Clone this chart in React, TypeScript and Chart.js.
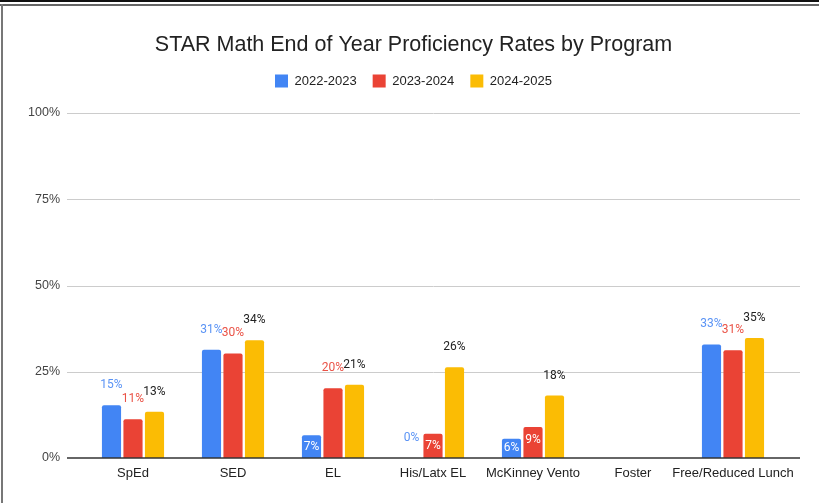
import React, { useEffect, useRef } from "react";
import { Chart, registerables } from "chart.js";

Chart.register(...registerables);

const categories = ["SpEd", "SED", "EL", "His/Latx EL", "McKinney Vento", "Foster", "Free/Reduced Lunch"];
const seriesNames = ["2022-2023", "2023-2024", "2024-2025"];
const values2022 = [15.3, 31.4, 6.6, 0, 5.6, null, 32.9];
const values2023 = [11.2, 30.3, 20.2, 7.0, 9.0, null, 31.2];
const values2024 = [13.4, 34.1, 21.2, 26.3, 18.1, null, 34.8];
const yTicks = [0, 25, 50, 75, 100];

const barColors = ["#4285F4", "#EA4335", "#FBBC04"];
const labelColors = ["#5a93f5", "#ea5246", "#222222"];
const FONT = "'Liberation Sans', Arial, sans-serif";
const LABEL_FONT = "Roboto";

const gridPlugin = {
  id: "extendedGrid",
  beforeDatasetsDraw(chart: any) {
    const { ctx, chartArea } = chart;
    const ys = chart.scales.y;
    ctx.save();
    ctx.strokeStyle = "#cccccc";
    ctx.lineWidth = 1;
    yTicks.forEach((v) => {
      if (v === 0) return;
      const py = Math.round(ys.getPixelForValue(v)) + 0.5;
      ctx.beginPath();
      ctx.moveTo(chartArea.left - 16, py);
      ctx.lineTo(chartArea.right + 17, py);
      ctx.stroke();
    });
    ctx.restore();
  },
  afterDatasetsDraw(chart: any) {
    const { ctx, chartArea } = chart;
    const ys = chart.scales.y;
    ctx.save();
    ctx.strokeStyle = "#333333";
    ctx.lineWidth = 1.5;
    const py = ys.getPixelForValue(0);
    ctx.beginPath();
    ctx.moveTo(chartArea.left - 16, py);
    ctx.lineTo(chartArea.right + 17, py);
    ctx.stroke();

    ctx.font = `12px ${LABEL_FONT}`;
    ctx.textAlign = "center";
    ctx.textBaseline = "middle";
    chart.data.datasets.forEach((ds: any, i: number) => {
      const meta = chart.getDatasetMeta(i);
      meta.data.forEach((bar: any, j: number) => {
        const v = ds.data[j];
        if (v === null || v === undefined) return;
        const { x, y, base } = bar.getProps(["x", "y", "base"], true);
        const txt = Math.round(v) + "%";
        if (v > 0 && v < 10) {
          ctx.fillStyle = "#ffffff";
          ctx.fillText(txt, x, Math.min(y + 13, (y + base) / 2));
        } else {
          ctx.fillStyle = labelColors[i];
          ctx.fillText(txt, x, y - 20);
        }
      });
    });
    ctx.restore();
  },
};

export default function App() {
  const ref = useRef<HTMLCanvasElement | null>(null);

  useEffect(() => {
    if (!ref.current) return;
    const chart = new Chart(ref.current, {
      type: "bar",
      data: {
        labels: categories,
        datasets: [values2022, values2023, values2024].map((d, i) => ({
          label: seriesNames[i],
          data: d,
          backgroundColor: barColors[i],
          borderRadius: 2,
          categoryPercentage: 0.645,
          barPercentage: 0.89,
        })),
      },
      options: {
        animation: false,
        responsive: false,
        layout: { padding: { top: 32, left: 8, right: 0, bottom: 0 } },
        plugins: {
          title: {
            display: true,
            text: "STAR Math End of Year Proficiency Rates by Program",
            color: "#222222",
            font: { family: FONT, size: 21.5, weight: "normal" },
            padding: { top: 0, bottom: 0.7 },
          },
          legend: {
            display: true,
            position: "top",
            labels: {
              boxWidth: 13,
              boxHeight: 13,
              padding: 16,
              color: "#222222",
              font: { family: FONT, size: 13 },
            },
          },
          tooltip: { enabled: false },
        },
        scales: {
          x: {
            grid: { display: false },
            border: { display: false },
            ticks: {
              color: "#222222",
              font: { family: FONT, size: 13 },
              padding: 0,
              maxRotation: 0,
              minRotation: 0,
              autoSkip: false,
            },
            afterFit: (s: any) => {
              s.height = 45;
            },
          },
          xTop: {
            axis: "x",
            type: "category",
            position: "top",
            grid: { display: false },
            border: { display: false },
            ticks: { display: false },
            afterFit: (s: any) => {
              s.height = 15.5;
            },
          },
          y: {
            min: 0,
            max: 100,
            grid: { display: false },
            border: { display: false },
            ticks: {
              stepSize: 25,
              color: "#444444",
              font: { family: FONT, size: 12.5 },
              padding: 15,
              callback: (v: any) => v + "%",
            },
            afterFit: (s: any) => {
              s.width = 75;
            },
          },
          yRight: {
            axis: "y",
            type: "linear",
            position: "right",
            grid: { display: false },
            border: { display: false },
            ticks: { display: false },
            afterFit: (s: any) => {
              s.width = 36;
            },
          },
        },
      },
      plugins: [gridPlugin],
    } as any);
    return () => chart.destroy();
  }, []);

  return (
    <div style={{ position: "absolute", left: 0, top: 0, width: 819, height: 503, background: "#ffffff", overflow: "hidden" }}>
      <canvas ref={ref} width={819} height={503} style={{ display: "block" }} />
      <div style={{ position: "absolute", left: 0, top: 0, width: 819, height: 2, background: "#111111" }} />
      <div style={{ position: "absolute", left: 0, top: 4, width: 819, height: 2, background: "#666666" }} />
      <div style={{ position: "absolute", left: 1, top: 4, width: 2, height: 499, background: "#777777" }} />
    </div>
  );
}
